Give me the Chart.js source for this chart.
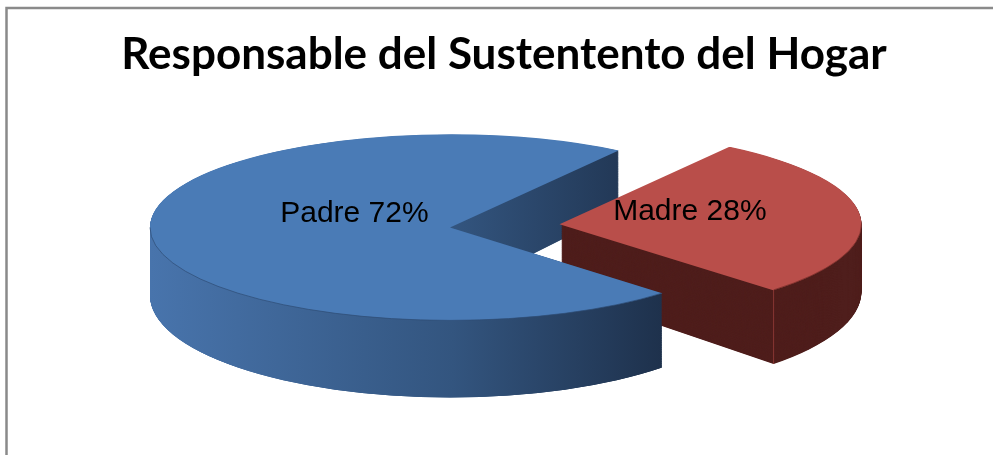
<!DOCTYPE html>
<html><head><meta charset="utf-8">
<script src="https://cdn.jsdelivr.net/npm/chart.js@4/dist/chart.umd.min.js"></script>
<style>html,body{margin:0;padding:0;background:#fff;overflow:hidden}</style>
</head><body><canvas id="c" width="993" height="455"></canvas>
<script>
// ---- data ----
const TITLE = 'Responsable del Sustentento del Hogar';
const categories = ['Padre', 'Madre'];
const values = [72, 28];

// ---- style ----
const topColors = ['#4a7bb6', '#b94e4a'];
const K = 0.31;      // vertical squash of the top face
const D0 = 68;       // side depth on the centre line
const DA = 0.03;     // extra depth toward the viewer
const LAYERS = 170;
const LABEL_R = [0.32, 0.43];
const LABEL_NUDGE = [-16, -9];

const mc = document.createElement('canvas').getContext('2d');
mc.font = 'bold 100px Lato';
const TS = Math.round(100 * 772 / mc.measureText(TITLE).width);
const TPAD = Math.round(54 - 0.6 * TS);
const BPAD = Math.round(55 + 0.6 * TS);

function geom(el) {
  const p = el.getProps(['x', 'y', 'startAngle', 'endAngle', 'outerRadius'], true);
  const off = (el.options.offset || 0) / 4;
  const circ = p.endAngle - p.startAngle;
  const fix = 1 - Math.sin(Math.min(Math.PI, circ || 0));
  const mid = (p.startAngle + p.endAngle) / 2;
  const o = off * (1 + fix);
  return {cx: p.x + Math.cos(mid) * o, cy: p.y + Math.sin(mid) * o, px: p.x, py: p.y,
          r: p.outerRadius, s: p.startAngle, e: p.endAngle, mid};
}
function drawSides(ctx, g, fill) {
  for (let n = LAYERS; n >= 1; n--) {
    const t = n / LAYERS;
    const sy = K + DA * t;
    ctx.save();
    ctx.transform(1, 0, 0, sy, 0, g.py + D0 * t - g.py * sy);
    ctx.beginPath();
    ctx.moveTo(g.cx, g.cy);
    ctx.arc(g.cx, g.cy, g.r, g.s, g.e);
    ctx.closePath();
    ctx.fillStyle = fill;
    ctx.fill();
    ctx.restore();
  }
}
const topY = (g, y) => g.py + (y - g.py) * K;
const botY = (g, y) => g.py + D0 + (y - g.py) * (K + DA);

const spacer = {
  id: 'spacer',
  beforeInit(chart) {
    Chart.layouts.addBox(chart, {
      position: 'right', fullSize: false, weight: 0, options: {},
      isHorizontal() { return false; },
      update(maxWidth, maxHeight) { this.width = 108; this.height = maxHeight; },
      draw() {}
    });
  }
};

const pie3d = {
  id: 'pie3d',
  beforeDraw(chart) {
    const ctx = chart.ctx;
    ctx.save();
    ctx.strokeStyle = '#8a8a8a';
    ctx.lineWidth = 2.5;
    ctx.strokeRect(6.5, 8, 1200, 1000);
    ctx.restore();
  },
  beforeDatasetsDraw(chart) {
    const ctx = chart.ctx;
    const gs = chart.getDatasetMeta(0).data.map(geom);
    const P = gs[0], M = gs[1];
    const grad = ctx.createLinearGradient(P.px - P.r, 0, P.px + P.r * Math.cos(P.s), 0);
    grad.addColorStop(0, '#4874ac');
    grad.addColorStop(0.59, '#33557f');
    grad.addColorStop(1, '#1e314c');
    drawSides(ctx, P, grad);
    drawSides(ctx, M, '#4f1e1c');
    // front part of Padre's wall sits in front of Madre
    const slope = K * Math.tan(P.s);
    ctx.save();
    ctx.beginPath();
    ctx.moveTo(-1000, P.py + slope * (-1000 - P.px));
    ctx.lineTo(3000, P.py + slope * (3000 - P.px));
    ctx.lineTo(3000, 5000);
    ctx.lineTo(-1000, 5000);
    ctx.closePath();
    ctx.clip();
    drawSides(ctx, P, grad);
    ctx.restore();
    // Madre front corner edge
    const ex = M.cx + M.r * Math.cos(M.e), ey = M.cy + M.r * Math.sin(M.e);
    ctx.save();
    ctx.strokeStyle = 'rgba(150,60,56,0.8)';
    ctx.lineWidth = 1;
    ctx.beginPath();
    ctx.moveTo(ex, topY(M, ey));
    ctx.lineTo(ex, botY(M, ey));
    ctx.stroke();
    ctx.restore();
    // squash for the top faces drawn by the library
    ctx.save();
    ctx.transform(1, 0, 0, K, 0, P.py - P.py * K);
  },
  afterDatasetsDraw(chart) {
    const ctx = chart.ctx;
    ctx.restore();
    const gs = chart.getDatasetMeta(0).data.map(geom);
    gs.forEach((g, i) => {
      for (const base of [0, 2 * Math.PI]) {
        const a0 = Math.max(g.s, base), a1 = Math.min(g.e, base + Math.PI);
        if (a1 <= a0) continue;
        ctx.save();
        ctx.transform(1, 0, 0, K, 0, g.py - g.py * K);
        ctx.beginPath();
        ctx.arc(g.cx, g.cy, g.r, a0, a1);
        ctx.restore();
        ctx.save();
        ctx.strokeStyle = i === 0 ? 'rgba(45,75,115,0.7)' : 'rgba(120,45,42,0.7)';
        ctx.lineWidth = 1;
        ctx.stroke();
        ctx.restore();
      }
    });
    ctx.save();
    ctx.font = '30px "Liberation Sans", Arial, sans-serif';
    ctx.fillStyle = '#000';
    ctx.textAlign = 'center';
    ctx.textBaseline = 'middle';
    gs.forEach((g, i) => {
      const rr = g.r * LABEL_R[i];
      const x = g.cx + Math.cos(g.mid) * rr;
      const y = topY(g, g.cy + Math.sin(g.mid) * rr) + LABEL_NUDGE[i];
      ctx.fillText(categories[i] + ' ' + values[i] + '%', x, y);
    });
    ctx.restore();
  }
};

new Chart(document.getElementById('c'), {
  type: 'pie',
  data: {
    labels: categories,
    datasets: [{
      data: values,
      backgroundColor: topColors,
      borderWidth: 0,
      offset: [0, 440],
      hoverOffset: 0,
      clip: false
    }]
  },
  options: {
    responsive: false,
    animation: false,
    events: [],
    rotation: 135,
    radius: 300,
    cutout: '0%',
    layout: {padding: {left: 15, right: 0, top: 0, bottom: BPAD}},
    plugins: {
      legend: {display: false},
      tooltip: {enabled: false},
      title: {
        display: true,
        text: TITLE,
        color: '#000',
        font: {family: 'Lato', size: TS, weight: 'bold', lineHeight: 1.2},
        padding: {top: TPAD, bottom: 0}
      }
    }
  },
  plugins: [spacer, pie3d]
});
</script>
</body></html>
